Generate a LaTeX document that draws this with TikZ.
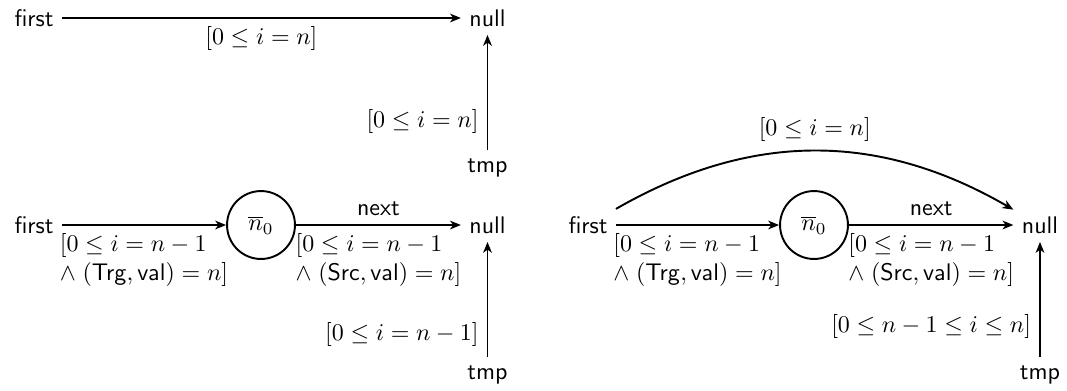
\documentclass[tikz,border=0pt]{standalone}
\usetikzlibrary{arrows.meta}
\begin{document}
\begin{tikzpicture}[x=0.4167pt,y=-0.4167pt,
  every node/.style={font=\sffamily},
  lab/.style={align=left},
  arr/.style={-{Stealth[length=4.5pt,width=3.6pt,inset=1.3pt]},line width=0.8pt},
  statecirc/.style={circle,draw,line width=0.8pt,minimum size=28.3pt,inner sep=0pt}]
\useasboundingbox (0,0) rectangle (1067,390);
% diagram 1
\node (f1) at (34,18) {first};
\node (nl1) at (487.5,18) {null};
\node (t1) at (487.5,168) {tmp};
\draw[arr] (f1) -- node[below,lab]{$[0\leq i=n]$} (nl1);
\draw[arr] (t1) -- node[left,lab,pos=0.25]{$[0\leq i=n]$} (nl1);
% diagram 2
\node (f2) at (34,225) {first};
\node[statecirc] (n2) at (261,225) {$\overline{n}_0$};
\node (nl2) at (487.5,225) {null};
\node (t2) at (487.5,375) {tmp};
\draw[arr] (f2) -- node[below,lab]{$[0\leq i=n-1$\\$\wedge\;(\mathsf{Trg},\mathsf{val})=n]$} (n2);
\draw[arr] (n2) -- node[above]{next} node[below,lab]{$[0\leq i=n-1$\\$\wedge\;(\mathsf{Src},\mathsf{val})=n]$} (nl2);
\draw[arr] (t2) -- node[left,lab,pos=0.2]{$[0\leq i=n-1]$} (nl2);
% diagram 3
\node (f3) at (588,225) {first};
\node[statecirc] (n3) at (814,225) {$\overline{n}_0$};
\node (nl3) at (1040,225) {null};
\node (t3) at (1040,375) {tmp};
\draw[arr] (f3) to[bend left=30] node[above,lab]{$[0\leq i=n]$} (nl3);
\draw[arr] (f3) -- node[below,lab]{$[0\leq i=n-1$\\$\wedge\;(\mathsf{Trg},\mathsf{val})=n]$} (n3);
\draw[arr] (n3) -- node[above]{next} node[below,lab]{$[0\leq i=n-1$\\$\wedge\;(\mathsf{Src},\mathsf{val})=n]$} (nl3);
\draw[arr] (t3) -- node[left,lab,pos=0.27]{$[0\leq n-1\leq i\leq n]$} (nl3);
\end{tikzpicture}
\end{document}
